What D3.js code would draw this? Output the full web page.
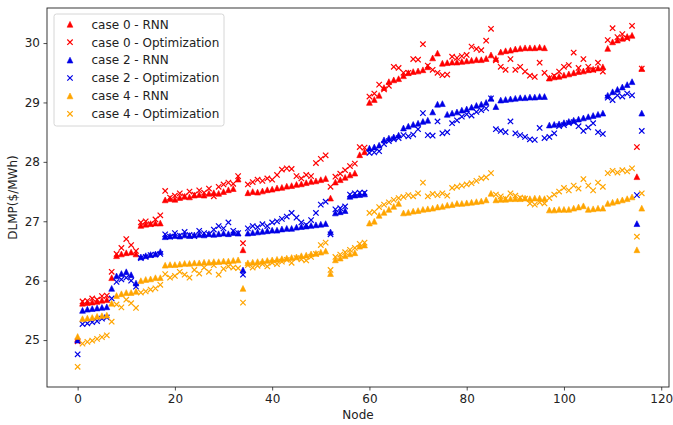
<!DOCTYPE html>
<html>
<head>
<meta charset="utf-8">
<script src="https://cdn.jsdelivr.net/npm/d3@7"></script>
<style>
  body { margin: 0; background: #fff; }
  svg { display: block; font-family: "DejaVu Sans", sans-serif; }
</style>
</head>
<body>
<svg id="chart" width="673" height="425"></svg>
<script>
// node index 0..116
const nodes = d3.range(117);

const xTicks = [0, 20, 40, 60, 80, 100, 120];
const yTicks = [25, 26, 27, 28, 29, 30];

// case 0 - RNN
const case0Rnn = [25.02,
  25.62, 25.63, 25.64, 25.65, 25.67, 25.68,
  26.05,
  26.42, 26.45, 26.47, 26.48, 26.45,
  26.93, 26.95, 26.96, 26.97, 26.97,
  27.36, 27.38, 27.37, 27.40, 27.42, 27.41, 27.44, 27.45, 27.44, 27.47, 27.48, 27.47, 27.50, 27.53, 27.55,
  27.71,
  26.52,
  27.48, 27.50, 27.49, 27.51, 27.53, 27.54, 27.56, 27.57, 27.59, 27.60, 27.62, 27.63, 27.65, 27.67, 27.68, 27.70, 27.72,
  27.39,
  27.66, 27.70, 27.74, 27.78, 27.81,
  28.12, 28.17,
  29.00, 29.05, 29.12,
  29.25,
  29.35, 29.38, 29.40,
  29.45, 29.50, 29.52, 29.53, 29.55, 29.60,
  29.75, 29.83,
  29.66, 29.67, 29.68, 29.68, 29.69, 29.70, 29.71, 29.72, 29.72, 29.74,
  29.80, 29.74,
  29.85, 29.87, 29.88, 29.90, 29.91, 29.92, 29.92, 29.92, 29.93, 29.92,
  29.41, 29.43, 29.44, 29.46, 29.48, 29.50, 29.52, 29.53, 29.55, 29.56, 29.58, 29.60,
  29.91, 30.02, 30.05, 30.08, 30.11, 30.13,
  27.75, 29.57];

// case 0 - Optimization
const case0Opt = [24.98,
  25.65, 25.66, 25.70, 25.68, 25.74, 25.75,
  26.15,
  26.45, 26.55, 26.70, 26.60, 26.50,
  26.98, 27.00, 26.95, 27.03, 27.10,
  27.51, 27.40, 27.43, 27.47, 27.42, 27.50, 27.45, 27.52, 27.48, 27.55, 27.42, 27.58, 27.62, 27.65, 27.63,
  27.76,
  26.63,
  27.62, 27.66, 27.70, 27.68, 27.72, 27.70, 27.78, 27.87, 27.89, 27.88, 27.76, 27.72, 27.78, 27.76, 27.98, 28.05, 28.11,
  27.58,
  27.75, 27.80, 27.86, 27.93, 27.97,
  28.25, 28.24,
  29.10, 29.15, 29.30,
  29.22,
  29.28, 29.60, 29.58,
  29.50, 29.50, 29.73, 29.72, 29.98, 29.62,
  29.55, 29.50,
  29.46, 29.47, 29.77, 29.75, 29.78, 29.80, 29.94, 29.90, 29.88, 30.04,
  30.24, 29.71,
  29.60, 29.55, 29.73, 29.55, 29.60, 29.52, 29.45, 29.43, 29.67, 29.50,
  29.41, 29.45, 29.52, 29.60, 29.63, 29.84, 29.58, 29.73, 29.60, 29.55, 29.67, 29.52,
  30.05, 30.25, 30.10, 30.15, 30.08, 30.29,
  28.25, 29.57];

// case 2 - RNN
const case2Rnn = [25.00,
  25.50, 25.52, 25.53, 25.54, 25.55, 25.56,
  25.87,
  26.08, 26.12, 26.15, 26.10, 25.96,
  26.40, 26.42, 26.44, 26.45, 26.49,
  26.74, 26.75, 26.76, 26.75, 26.77, 26.76, 26.77, 26.78, 26.77, 26.79, 26.78, 26.79, 26.80, 26.79, 26.81,
  26.80,
  26.18,
  26.80, 26.81, 26.82, 26.83, 26.84, 26.85, 26.85, 26.87, 26.88, 26.88, 26.90, 26.91, 26.92, 26.93, 26.94, 26.95, 26.96,
  26.82,
  27.14, 27.16, 27.18,
  27.42, 27.44, 27.45, 27.46,
  28.23, 28.25, 28.28,
  28.37, 28.40, 28.42, 28.45,
  28.57, 28.60, 28.63, 28.65, 28.68, 28.70,
  28.84, 28.97, 28.98,
  28.80, 28.82, 28.84, 28.87, 28.89, 28.92, 28.95, 28.97, 29.00,
  29.07, 28.93,
  29.04, 29.05, 29.06, 29.07, 29.08, 29.08, 29.09, 29.09, 29.10, 29.10,
  28.62, 28.63, 28.64, 28.66, 28.68, 28.70, 28.72, 28.74, 28.76, 28.78, 28.80, 28.82,
  29.12, 29.18, 29.22, 29.26, 29.30, 29.35,
  26.96, 28.82];

// case 2 - Optimization
const case2Opt = [24.76,
  25.27, 25.28, 25.30, 25.32, 25.36, 25.38,
  25.70,
  25.98, 26.02, 26.05, 26.00, 25.90,
  26.38, 26.40, 26.43, 26.44, 26.45,
  26.78, 26.74, 26.80, 26.76, 26.82, 26.77, 26.75, 26.84, 26.80, 26.78, 26.86, 26.92, 26.88, 26.98, 26.84,
  26.80,
  26.10,
  26.88, 26.92, 26.90, 26.95, 26.92, 26.98, 27.00, 27.04, 27.08, 27.14, 27.06, 26.98, 26.94, 27.02, 27.14, 27.28, 27.33,
  26.78,
  27.20, 27.22, 27.25,
  27.45, 27.47, 27.48, 27.48,
  28.15, 28.16, 28.18,
  28.30, 28.35, 28.38, 28.40,
  28.45, 28.43, 28.46, 28.55, 28.82, 28.45,
  28.44, 28.68, 28.48,
  28.50, 28.65, 28.70, 28.76, 28.80, 28.78, 28.84, 28.87, 28.90,
  29.07, 28.55,
  28.52, 28.50, 28.68, 28.48, 28.45, 28.42, 28.38, 28.37, 28.57, 28.40,
  28.42, 28.48, 28.60, 28.62, 28.65, 28.67, 28.60, 28.52, 28.58, 28.65, 28.50, 28.47,
  29.08, 29.04, 29.12, 29.10, 29.15, 29.12,
  27.44, 28.52];

// case 4 - RNN
const case4Rnn = [25.06,
  25.36, 25.37, 25.38, 25.40, 25.41, 25.42,
  25.62,
  25.75, 25.78, 25.80, 25.80, 25.82,
  26.00, 26.02, 26.03, 26.05, 26.05,
  26.26, 26.27, 26.27, 26.28, 26.29, 26.29, 26.30, 26.30, 26.31, 26.31, 26.32, 26.32, 26.33, 26.33, 26.34,
  26.35,
  25.87,
  26.30, 26.31, 26.32, 26.33, 26.34, 26.35, 26.36, 26.37, 26.38, 26.39, 26.40, 26.42, 26.43, 26.45, 26.46, 26.48, 26.50,
  26.12,
  26.35, 26.38, 26.42,
  26.45, 26.47, 26.58, 26.60,
  26.97, 27.00, 27.10,
  27.15, 27.20, 27.25, 27.30,
  27.14, 27.15, 27.17, 27.18, 27.20, 27.21,
  27.22, 27.24, 27.25,
  27.27, 27.28, 27.30, 27.30, 27.31, 27.32, 27.33, 27.34, 27.36,
  27.47, 27.36,
  27.37, 27.37, 27.38, 27.38, 27.38, 27.39, 27.38, 27.39, 27.39, 27.38,
  27.19, 27.19, 27.20, 27.20, 27.20, 27.22, 27.24, 27.26, 27.20, 27.21, 27.22, 27.22,
  27.30, 27.32, 27.34, 27.36, 27.38, 27.41,
  26.52, 27.22];

// case 4 - Optimization
const case4Opt = [24.55,
  24.94, 24.97, 24.99, 25.02, 25.05, 25.08,
  25.31,
  25.60, 25.55, 25.68, 25.62, 25.54,
  25.80, 25.82, 25.85, 25.87, 25.93,
  26.11, 26.05, 26.08, 26.15, 26.10, 26.05, 26.18, 26.12, 26.22, 26.15, 26.26, 26.10, 26.20, 26.24, 26.22,
  26.21,
  25.63,
  26.26, 26.22, 26.25, 26.28, 26.24, 26.30, 26.28, 26.32, 26.35, 26.30, 26.38, 26.36, 26.34, 26.40, 26.45, 26.60, 26.64,
  26.18,
  26.40, 26.44, 26.48,
  26.52, 26.55, 26.62, 26.64,
  27.14, 27.16, 27.24,
  27.28, 27.32, 27.36, 27.39,
  27.41, 27.44, 27.42, 27.47, 27.65, 27.42,
  27.46, 27.44, 27.47,
  27.43, 27.56, 27.58, 27.60, 27.62, 27.64, 27.68, 27.72, 27.74,
  27.81, 27.45,
  27.42, 27.38, 27.47, 27.43, 27.40, 27.38, 27.30, 27.28, 27.32, 27.30,
  27.39, 27.45, 27.50, 27.56, 27.52, 27.60, 27.55, 27.71, 27.60, 27.52, 27.65, 27.58,
  27.81, 27.85, 27.82, 27.86, 27.84, 27.89,
  26.74, 27.47];

const seriesNames = ['case 0 - RNN', 'case 0 - Optimization', 'case 2 - RNN',
  'case 2 - Optimization', 'case 4 - RNN', 'case 4 - Optimization'];
const seriesColors = ['#ff0000', '#ff0000', '#0000e6', '#0000e6', '#ffa500', '#ffa500'];
const seriesMarkers = ['tri', 'x', 'tri', 'x', 'tri', 'x'];
const seriesValues = [case0Rnn, case0Opt, case2Rnn, case2Opt, case4Rnn, case4Opt];

seriesValues.forEach((s, i) => {
  if (s.length !== nodes.length) throw new Error(seriesNames[i] + ' has ' + s.length);
});

const svg = d3.select('#chart');
const plotLeft = 47, plotRight = 669, plotTop = 8, plotBottom = 387;

const x = d3.scaleLinear().domain([-6.3, 121.6]).range([plotLeft, plotRight]);
const y = d3.scaleLinear().domain([24.21, 30.59]).range([plotBottom, plotTop]);

const triPath = r => `M0,${-r}L${r},${r}L${-r},${r}Z`;
const xPath = r => `M${-r},${-r}L${r},${r}M${-r},${r}L${r},${-r}`;

function drawMarker(g, kind, color) {
  if (kind === 'tri') {
    g.append('path').attr('d', triPath(2.9)).attr('fill', color).attr('stroke', color).attr('stroke-width', 0.6);
  } else {
    g.append('path').attr('d', xPath(2.7)).attr('fill', 'none').attr('stroke', color).attr('stroke-width', 1.2);
  }
}

// points
seriesValues.forEach((vals, i) => {
  const grp = svg.append('g');
  nodes.forEach(n => {
    const m = grp.append('g').attr('transform', `translate(${x(n)},${y(vals[n])})`);
    drawMarker(m, seriesMarkers[i], seriesColors[i]);
  });
});

// axes
const xAxis = d3.axisBottom(x).tickValues(xTicks).tickSize(3.5).tickPadding(3.5);
const yAxis = d3.axisLeft(y).tickValues(yTicks).tickFormat(d3.format('d')).tickSize(3.5).tickPadding(3.5);

svg.append('g')
  .attr('transform', `translate(0,${plotBottom})`)
  .call(xAxis)
  .call(g => g.select('.domain').remove());

svg.append('g')
  .attr('transform', `translate(${plotLeft},0)`)
  .call(yAxis)
  .call(g => g.select('.domain').remove());

svg.selectAll('.tick text')
  .attr('font-family', '"DejaVu Sans", sans-serif')
  .attr('font-size', 12)
  .attr('fill', '#222');
svg.selectAll('.tick line').attr('stroke', '#222').attr('stroke-width', 0.8);

// frame
svg.append('rect')
  .attr('x', plotLeft).attr('y', plotTop)
  .attr('width', plotRight - plotLeft).attr('height', plotBottom - plotTop)
  .attr('fill', 'none').attr('stroke', '#222').attr('stroke-width', 0.9);

// axis labels
svg.append('text')
  .attr('x', (plotLeft + plotRight) / 2).attr('y', 419)
  .attr('text-anchor', 'middle').attr('font-size', 12).attr('fill', '#222')
  .text('Node');

svg.append('text')
  .attr('transform', `translate(17,${(plotTop + plotBottom) / 2}) rotate(-90)`)
  .attr('text-anchor', 'middle').attr('font-size', 12).attr('fill', '#222')
  .text('DLMP($/MWh)');

// legend
const legend = svg.append('g');
legend.append('rect')
  .attr('x', 54).attr('y', 14).attr('width', 170).attr('height', 112)
  .attr('rx', 2.5).attr('fill', 'white').attr('fill-opacity', 0.8)
  .attr('stroke', '#ccc').attr('stroke-width', 0.8);

seriesNames.forEach((name, i) => {
  const yy = 24.3 + i * 17.9;
  const m = legend.append('g').attr('transform', `translate(70,${yy})`);
  drawMarker(m, seriesMarkers[i], seriesColors[i]);
  legend.append('text')
    .attr('x', 91.5).attr('y', yy + 4.3)
    .attr('font-size', 12).attr('fill', '#222')
    .text(name);
});
</script>
</body>
</html>
